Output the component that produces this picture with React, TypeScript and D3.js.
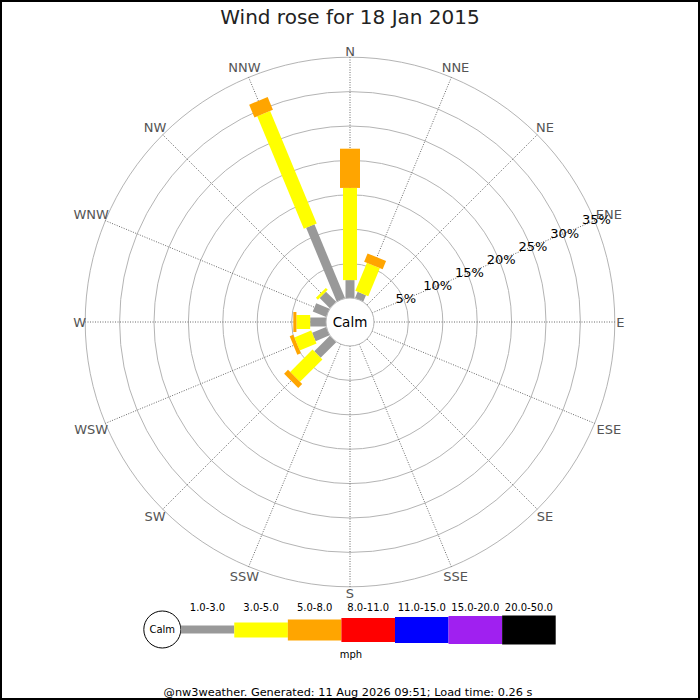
import React from 'react';
import * as d3 from 'd3';

// compass points, clockwise from north
const directions = ['N', 'NNE', 'NE', 'ENE', 'E', 'ESE', 'SE', 'SSE', 'S', 'SSW', 'SW', 'WSW', 'W', 'WNW', 'NW', 'NNW'];

// speed bins (mph) and their colours
const speedBins = ['1.0-3.0', '3.0-5.0', '5.0-8.0', '8.0-11.0', '11.0-15.0', '15.0-20.0', '20.0-50.0'];
const binColors = ['#999999', '#ffff00', '#ffa500', '#ff0000', '#0000ff', '#a020f0', '#000000'];

// percentage of time per direction, per speed bin
const speed1to3 = [2.6, 1.0, 0, 0, 0, 0, 0, 0, 0, 0, 3.2, 2.2, 2.3, 2.1, 2.1, 11.6];
const speed3to5 = [13.4, 4.4, 0, 0, 0, 0, 0, 0, 0, 0, 4.6, 2.65, 2.0, 0, 0.4, 17.7];
const speed5to8 = [5.7, 1.3, 0, 0, 0, 0, 0, 0, 0, 0, 0.8, 0.55, 0.45, 0, 0, 2.0];

const ringTicks = [5, 10, 15, 20, 25, 30, 35];

const title = 'Wind rose for 18 Jan 2015';
const footer = '@nw3weather. Generated: 11 Aug 2026 09:51; Load time: 0.26 s';

const W = 700;
const H = 700;
const cx = 350;
const cy = 322;
const calmR = 24;
const font = 'DejaVu Sans, sans-serif';

// bar thickness grows with speed, like the legend
const barWidths = [9, 14, 20, 23, 25, 27, 28];

const WindRose: React.FC = () => {
    const r = d3.scaleLinear().domain([0, 35]).range([calmR, 264.8]);
    const angle = d3.scaleLinear().domain([0, directions.length]).range([0, 360]);

    const rows = directions.map((d, i) => ({ dir: d, b0: speed1to3[i], b1: speed3to5[i], b2: speed5to8[i] }));
    const keys = ['b0', 'b1', 'b2'];
    const series = d3.stack<any>().keys(keys)(rows);

    const outer = r(35);
    const rad = (deg: number) => (deg * Math.PI) / 180;

    const legendX = d3.scaleBand<string>().domain(speedBins).range([180.7, 555.7]);
    const legendY = 629.5;

    return (
        <svg width={W} height={H} style={{ position: 'absolute', left: 0, top: 0 }} fontFamily={font}>
            <rect x={0} y={0} width={W} height={H} fill="#fff" />
            <rect x={1} y={1} width={W - 2} height={H - 2} fill="none" stroke="#000" strokeWidth={2} />

            <text x={cx} y={24} textAnchor="middle" fontSize={20} fill="#222">{title}</text>

            {/* rings */}
            {ringTicks.map(t => (
                <circle key={t} cx={cx} cy={cy} r={r(t)} fill="none" stroke="#b4b4b4" strokeWidth={1} />
            ))}

            {/* spokes */}
            {directions.map((d, i) => {
                const a = rad(angle(i));
                return (
                    <line key={d}
                        x1={cx + calmR * Math.sin(a)} y1={cy - calmR * Math.cos(a)}
                        x2={cx + outer * Math.sin(a)} y2={cy - outer * Math.cos(a)}
                        stroke="#444" strokeWidth={0.8} strokeDasharray="1,1.5" />
                );
            })}

            {/* direction labels */}
            {directions.map((d, i) => {
                const a = rad(angle(i));
                const hw = d.length * 4.4;
                const R = 266 + hw * Math.abs(Math.sin(a)) + 5 * Math.abs(Math.cos(a));
                return (
                    <text key={d} x={cx + R * Math.sin(a)} y={cy - R * Math.cos(a)}
                        textAnchor="middle" dominantBaseline="central" fontSize={13} fill="#555">{d}</text>
                );
            })}

            {/* bars */}
            {series.map((s, k) => (
                <g key={s.key} fill={binColors[k]}>
                    {s.map((seg, i) => {
                        const v0 = seg[0];
                        const v1 = seg[1];
                        if (v1 - v0 <= 0) return null;
                        const w = barWidths[k];
                        return (
                            <rect key={i}
                                x={-w / 2} y={-r(v1)} width={w} height={r(v1) - r(v0)}
                                transform={`translate(${cx},${cy}) rotate(${angle(i)})`} />
                        );
                    })}
                </g>
            ))}

            {/* calm circle */}
            <circle cx={cx} cy={cy} r={calmR} fill="#fff" stroke="#b4b4b4" strokeWidth={1} />
            <text x={cx} y={cy} textAnchor="middle" dominantBaseline="central" fontSize={13.5} fill="#000">Calm</text>

            {/* ring labels along ENE */}
            {ringTicks.map(t => {
                const a = rad(angle(3));
                const R = r(t) + 2;
                return (
                    <text key={t} x={cx + R * Math.sin(a)} y={cy - R * Math.cos(a)}
                        textAnchor="middle" dominantBaseline="central" fontSize={13} fill="#000">{t}%</text>
                );
            })}

            {/* legend */}
            <circle cx={162.3} cy={legendY} r={18.5} fill="#fff" stroke="#000" strokeWidth={1} />
            <text x={162.3} y={legendY} textAnchor="middle" dominantBaseline="central" fontSize={10}>Calm</text>
            {speedBins.map((b, k) => (
                <g key={b}>
                    <rect x={legendX(b)!} y={legendY - (k === 0 ? 4 : barWidths[k] / 2)}
                        width={legendX.bandwidth()} height={k === 0 ? 8 : barWidths[k] + 1}
                        fill={binColors[k]} />
                    <text x={legendX(b)! + legendX.bandwidth() / 2} y={607} textAnchor="middle"
                        dominantBaseline="central" fontSize={10} fill="#000">{b}</text>
                </g>
            ))}
            <text x={351} y={654} textAnchor="middle" dominantBaseline="central" fontSize={10} fill="#000">mph</text>

            <text x={348} y={692} textAnchor="middle" dominantBaseline="central" fontSize={11.3} fill="#000">{footer}</text>
        </svg>
    );
};

const App = () => <WindRose />;

export default App;
